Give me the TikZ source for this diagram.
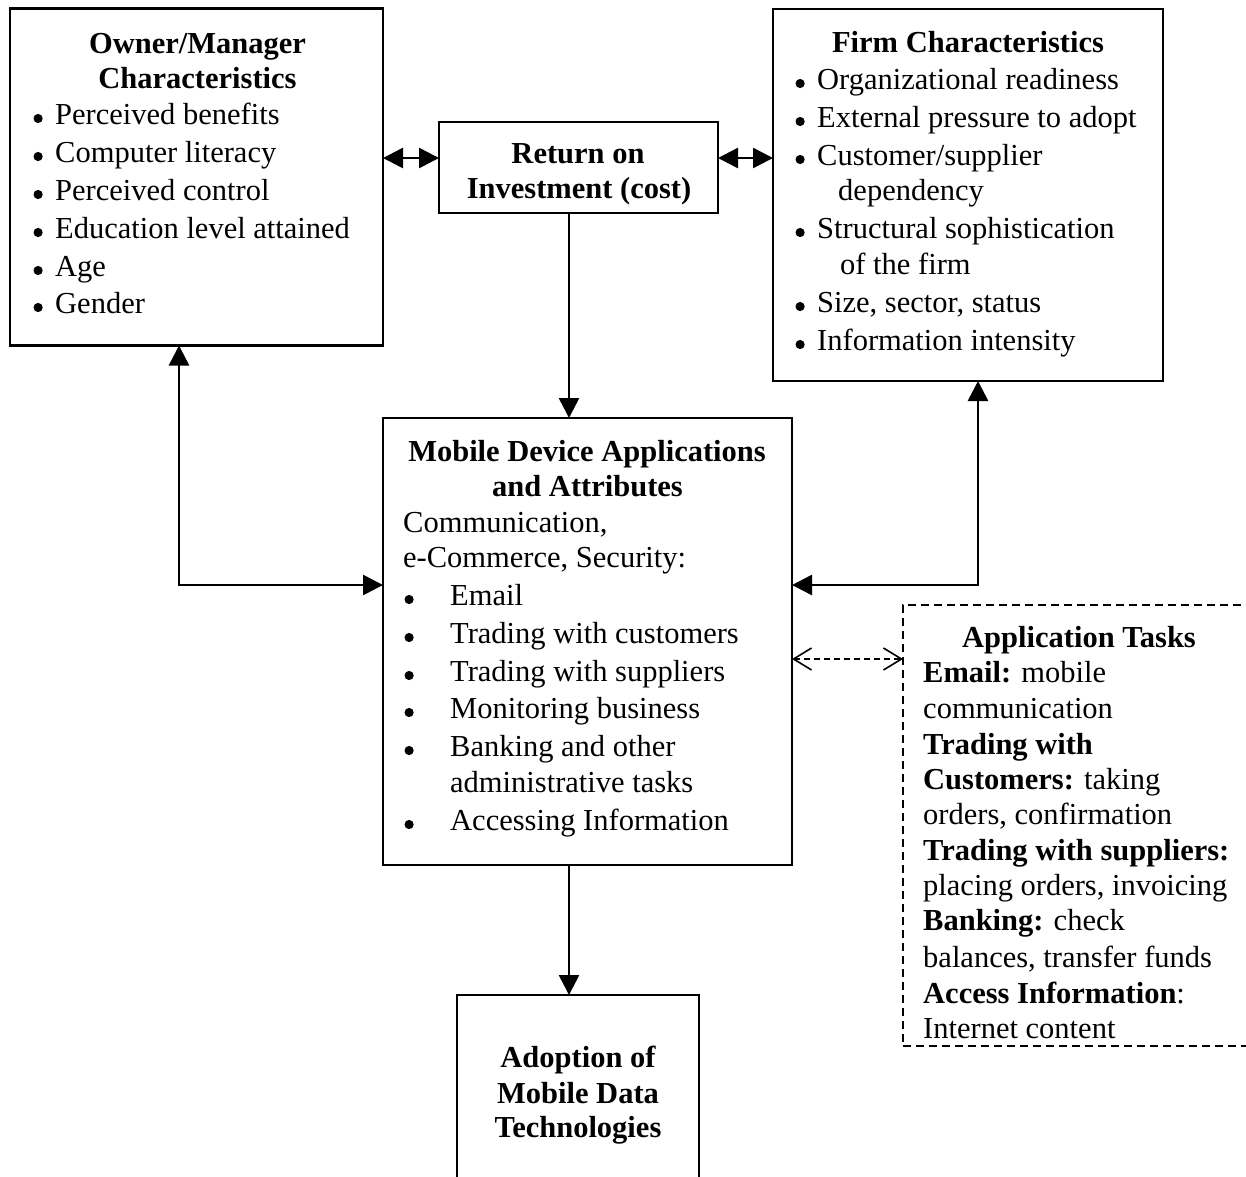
\documentclass[tikz,border=0pt]{standalone}
\usepackage{fontspec}
\setmainfont{Liberation Serif}
\usetikzlibrary{arrows.meta}

% round list dot set to the left of an item, #1 = gap to the text
\newcommand\itemdot[1]{\llap{\tikz[baseline=0pt]\fill (0pt,5.5pt) circle (4.6pt);\hspace{#1}}}

\begin{document}
\begin{tikzpicture}[x=1pt,y=-1pt,
  box/.style={draw, line width=2.4pt, inner sep=0pt, outer sep=0pt},
  dbox/.style={box, dash pattern=on 8pt off 5pt},
  txt/.style={inner sep=0pt, anchor=base west, font=\fontsize{30.5}{36}\selectfont},
  ttl/.style={inner sep=0pt, anchor=base, font=\fontsize{30.5}{36}\selectfont\bfseries},
  tip/.tip={Triangle[length=20pt,width=20pt]},
  link/.style={line width=2.6pt, -tip},
  both/.style={line width=2.6pt, tip-tip},
  dlink/.style={line width=1.6pt, dash pattern=on 6pt off 4pt,
    {Straight Barb[length=18pt,width=22pt]}-{Straight Barb[length=18pt,width=22pt]}}
]
\useasboundingbox (0,0) rectangle (1246,1176);
\clip (0,0) rectangle (1246,1176);
\fill[white] (0,0) rectangle (1246,1176);

% boxes
\node[box, minimum width=373pt, minimum height=337pt] (own)  at (196.5,177) {};
\node[box, minimum width=279pt, minimum height=91pt]  (ret)  at (578.5,167.5) {};
\node[box, minimum width=390pt, minimum height=372pt] (firm) at (968,195) {};
\node[box, minimum width=409pt, minimum height=447pt] (mob)  at (587.5,641.5) {};
\node[dbox, minimum width=397pt, minimum height=441pt] (task) at (1101.5,825.5) {};
\node[box, minimum width=242pt, minimum height=236pt] (ado)  at (578,1113) {};

% routing coordinates
\coordinate (lv) at (179,585);
\coordinate (rv) at (978,585);
\coordinate (cx) at (569,0);
\coordinate (ay) at (0,158);
\coordinate (dy) at (0,659);

% connectors
\draw[both] (own.east |- ay) -- (ret.west |- ay);
\draw[both] (ret.east |- ay) -- (firm.west |- ay);
\draw[link] (ret.south -| cx) -- (mob.north -| cx);
\draw[link] (mob.south -| cx) -- (ado.north -| cx);
\draw[both] (own.south -| lv) |- (mob.west |- lv);
\draw[both] (firm.south -| rv) |- (mob.east |- rv);
\draw[dlink] (mob.east |- dy) -- (task.west |- dy);

% owner / manager
\node[ttl] (own-t1) at (197.5,53) {Owner/Manager};
\node[ttl] (own-t2) at (197.5,88) {Characteristics};
\node[txt] (own-1) at (55,124) {\itemdot{12.5pt}Perceived benefits};
\node[txt] (own-2) at (55,162) {\itemdot{12.5pt}Computer literacy};
\node[txt] (own-3) at (55,200) {\itemdot{12.5pt}Perceived control};
\node[txt] (own-4) at (55,238) {\itemdot{12.5pt}Education level attained};
\node[txt] (own-5) at (55,276) {\itemdot{12.5pt}Age};
\node[txt] (own-6) at (55,313) {\itemdot{12.5pt}Gender};

% return on investment
\node[ttl] (ret-t1) at (578,163) {Return on};
\node[ttl] (ret-t2) at (579,198) {Investment (cost)};

% firm
\node[ttl] (firm-t) at (968,52) {Firm Characteristics};
\node[txt] (firm-1) at (817,89)  {\itemdot{12.5pt}Organizational readiness};
\node[txt] (firm-2) at (817,127) {\itemdot{12.5pt}External pressure to adopt};
\node[txt] (firm-3) at (817,165) {\itemdot{12.5pt}Customer/supplier};
\node[txt] (firm-3b) at (838,200) {dependency};
\node[txt] (firm-4) at (817,238) {\itemdot{12.5pt}Structural sophistication};
\node[txt] (firm-4b) at (840,274) {of the firm};
\node[txt] (firm-5) at (817,312) {\itemdot{12.5pt}Size, sector, status};
\node[txt] (firm-6) at (817,350) {\itemdot{12.5pt}Information intensity};

% mobile device applications
\node[ttl] (mob-t1) at (587,461) {Mobile Device Applications};
\node[ttl] (mob-t2) at (587.5,496) {and Attributes};
\node[txt] (mob-a) at (403,532) {Communication,};
\node[txt] (mob-b) at (403,567) {e-Commerce, Security:};
\node[txt] (mob-1) at (450,605) {\itemdot{36.5pt}Email};
\node[txt] (mob-2) at (450,643) {\itemdot{36.5pt}Trading with customers};
\node[txt] (mob-3) at (450,681) {\itemdot{36.5pt}Trading with suppliers};
\node[txt] (mob-4) at (450,718) {\itemdot{36.5pt}Monitoring business};
\node[txt] (mob-5) at (450,756) {\itemdot{36.5pt}Banking and other};
\node[txt] (mob-5b) at (450,792) {administrative tasks};
\node[txt] (mob-6) at (450,830) {\itemdot{36.5pt}Accessing Information};

% application tasks
\node[ttl] (task-t) at (1079,647) {Application Tasks};
\node[txt] (task-1)  at (923,682)  {\textbf{Email:} mobile};
\node[txt] (task-2)  at (923,718)  {communication};
\node[txt] (task-3)  at (923,754)  {\textbf{Trading with}};
\node[txt] (task-4)  at (923,789)  {\textbf{Customers:} taking};
\node[txt] (task-5)  at (923,824)  {orders, confirmation};
\node[txt] (task-6)  at (923,860)  {\textbf{Trading with suppliers:}};
\node[txt] (task-7)  at (923,895)  {placing orders, invoicing};
\node[txt] (task-8)  at (923,930)  {\textbf{Banking:} check};
\node[txt] (task-9)  at (923,967)  {balances, transfer funds};
\node[txt] (task-10) at (923,1003) {\textbf{Access Information}:};
\node[txt] (task-11) at (923,1038) {Internet content};

% adoption
\node[ttl] (ado-t1) at (578,1067) {Adoption of};
\node[ttl] (ado-t2) at (578,1103) {Mobile Data};
\node[ttl] (ado-t3) at (578,1137) {Technologies};
\end{tikzpicture}
\end{document}
